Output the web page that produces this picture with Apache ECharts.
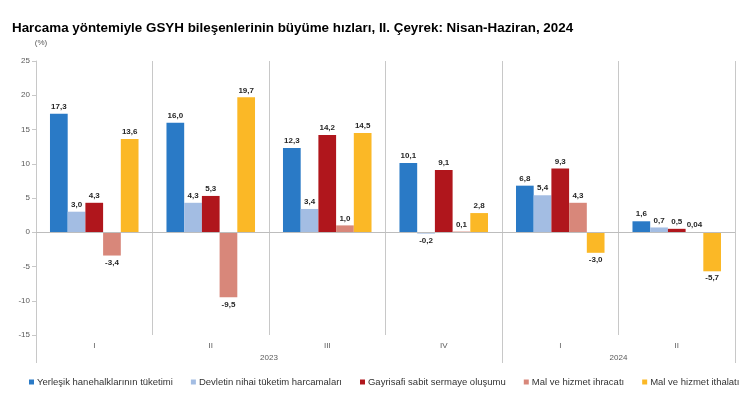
<!DOCTYPE html>
<html>
<head>
<meta charset="utf-8">
<script src="https://cdn.jsdelivr.net/npm/echarts@6/dist/echarts.min.js"></script>
<style>
  html, body { margin: 0; padding: 0; background: #fff; }
  #chart { width: 745px; height: 401px; }
</style>
</head>
<body>
<div id="chart"></div>
<script>
// çeyrekler ve yıllar
const quarters = ['I', 'II', 'III', 'IV', 'I', 'II'];
const years = ['2023', '2024'];
const yearSpan = [4, 2];

const seriesNames = [
  'Yerleşik hanehalklarının tüketimi',
  'Devletin nihai tüketim harcamaları',
  'Gayrisafi sabit sermaye oluşumu',
  'Mal ve hizmet ihracatı',
  'Mal ve hizmet ithalatı'
];
const hanehalki = [17.3, 16.0, 12.3, 10.1, 6.8, 1.6];
const devlet = [3.0, 4.3, 3.4, -0.2, 5.4, 0.7];
const yatirim = [4.3, 5.3, 14.2, 9.1, 9.3, 0.5];
const ihracat = [-3.4, -9.5, 1.0, 0.1, 4.3, 0.04];
const ithalat = [13.6, 19.7, 14.5, 2.8, -3.0, -5.7];
const colors = ['#2a7ac6', '#a3bde3', '#b0161c', '#d8877a', '#fbb826'];

// yıl ekseni: sınır noktaları ve etiketler
const yearSlots = new Array(quarters.length + 1).fill('');
const yearBounds = [0];
let pos = 0;
years.forEach(function (y, i) {
  yearSlots[pos + yearSpan[i] / 2] = y;
  pos += yearSpan[i];
  yearBounds.push(pos);
});

function fmt(v) {
  const s = Math.round(v * 10) === v * 10 ? v.toFixed(1) : v.toFixed(2);
  return s.replace('.', ',');
}

const allData = [hanehalki, devlet, yatirim, ihracat, ithalat];
const series = allData.map(function (arr, i) {
  const s = {
    name: seriesNames[i],
    type: 'bar',
    xAxisIndex: 0,
    barGap: '0%',
    barCategoryGap: '24%',
    itemStyle: { color: colors[i] },
    data: arr.map(function (v) {
      return {
        value: v,
        label: { position: v < 0 ? 'bottom' : 'top' }
      };
    }),
    label: {
      show: true,
      distance: 3,
      fontFamily: 'Arial',
      fontSize: 8,
      fontWeight: 'bold',
      color: '#262626',
      formatter: function (p) { return fmt(p.value); }
    }
  };
  if (i === 0) {
    s.markLine = {
      silent: true,
      symbol: 'none',
      label: { show: false },
      lineStyle: { color: '#bdbdbd', type: 'solid', width: 1 },
      data: [{ yAxis: 0 }]
    };
  }
  return s;
});

const chart = echarts.init(document.getElementById('chart'));
chart.setOption({
  animation: false,
  title: {
    text: 'Harcama yöntemiyle GSYH bileşenlerinin büyüme hızları, II. Çeyrek: Nisan-Haziran, 2024',
    left: 7,
    top: 17,
    textStyle: { fontFamily: 'Arial', fontSize: 13.4, fontWeight: 'bold', color: '#000' }
  },
  legend: {
    top: 372,
    left: 24,
    width: 900,
    icon: 'rect',
    itemWidth: 5,
    itemHeight: 5,
    itemGap: 18,
    textStyle: { fontFamily: 'Arial', fontSize: 9.5, color: '#333', padding: [0, 0, 0, -2] },
    data: seriesNames
  },
  grid: { left: 36, right: 10, top: 61, bottom: 66 },
  xAxis: [
    {
      type: 'category',
      data: quarters,
      position: 'bottom',
      axisLine: { show: false, onZero: false },
      axisTick: { show: false },
      axisLabel: { fontFamily: 'Arial', fontSize: 8, color: '#595959', margin: 7 },
      splitLine: { show: true, interval: 0, lineStyle: { color: '#c8c8c8', width: 1 } }
    },
    {
      type: 'category',
      data: yearSlots,
      boundaryGap: false,
      position: 'bottom',
      axisLine: { show: false, onZero: false },
      axisTick: {
        show: true,
        length: 28,
        interval: function (idx) { return yearBounds.indexOf(idx) >= 0; },
        lineStyle: { color: '#c8c8c8' }
      },
      axisLabel: { interval: 0, fontFamily: 'Arial', fontSize: 8, color: '#595959', margin: 19 },
      splitLine: { show: false }
    }
  ],
  yAxis: {
    type: 'value',
    min: -15,
    max: 25,
    interval: 5,
    name: '(%)',
    nameLocation: 'end',
    nameGap: 14,
    nameTextStyle: { fontFamily: 'Arial', fontSize: 8, color: '#595959', padding: [0, 0, 0, 10] },
    axisLine: { show: true, lineStyle: { color: '#c8c8c8' } },
    axisTick: { show: true, length: 4, lineStyle: { color: '#c8c8c8' } },
    axisLabel: { fontFamily: 'Arial', fontSize: 8, color: '#595959', margin: 6 },
    splitLine: { show: false }
  },
  series: series
});
</script>
</body>
</html>
